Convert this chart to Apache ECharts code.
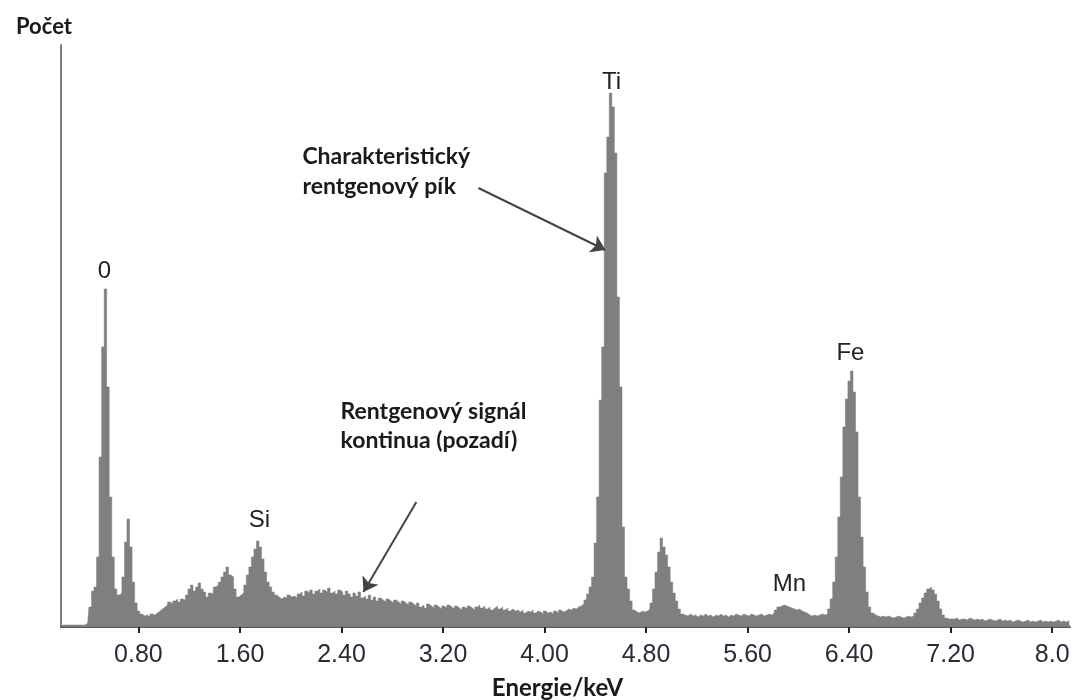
<!DOCTYPE html>
<html>
<head>
<meta charset="utf-8">
<script src="https://cdn.jsdelivr.net/npm/echarts@6.0.0/dist/echarts.min.js"></script>
<style>
  html, body { margin: 0; padding: 0; background: #fff; }
  #chart { width: 1075px; height: 700px; }
</style>
</head>
<body>
<div id="chart"></div>
<script>
// EDS spectrum, counts (arbitrary units), one bin every 0.02 keV
const energyStart = 0.20;
const energyStep = 0.02;
const counts = [
  2, 2, 2, 2, 2, 2, 2, 2, 2, 2,                  // 0.20
  4, 20, 36, 40, 70, 170, 280, 338, 240, 130,     // 0.40
  70, 38, 32, 34, 50, 85, 108, 80, 45, 24,        // 0.60
  16, 13, 11, 12, 10, 13, 12, 14, 16, 18,         // 0.80
  20, 22, 25, 23, 26, 28, 25, 28, 27, 32,         // 1.00
  38, 42, 36, 40, 44, 38, 35, 30, 34, 33,         // 1.20
  40, 42, 45, 50, 55, 60, 52, 50, 38, 30,         // 1.40
  32, 34, 42, 52, 60, 70, 78, 86, 80, 68,         // 1.60
  55, 45, 40, 35, 32, 30, 28, 30, 29, 32,         // 1.80
  30, 31, 29, 33, 35, 31, 36, 34, 37, 33,         // 2.00
  36, 38, 34, 37, 35, 39, 34, 36, 33, 37,         // 2.20
  35, 32, 36, 33, 30, 34, 31, 35, 29, 31,         // 2.40
  28, 32, 27, 30, 26, 29, 27, 25, 28, 26,         // 2.60
  24, 27, 25, 23, 26, 24, 22, 25, 23, 21,         // 2.80
  24, 20, 22, 19, 23, 21, 19, 22, 20, 18,         // 3.00
  21, 19, 22, 20, 18, 21, 19, 17, 20, 18,         // 3.20
  21, 19, 17, 20, 22, 19, 21, 18, 20, 17,         // 3.40
  19, 21, 18, 20, 17, 19, 16, 18, 16, 17,         // 3.60
  15, 17, 14, 16, 15, 17, 14, 16, 15, 13,         // 3.80
  16, 14, 15, 13, 16, 14, 17, 15, 16, 18,         // 4.00
  17, 19, 18, 20, 21, 23, 27, 33, 40, 50,         // 4.20
  84, 130, 227, 280, 454, 490, 534, 520, 474, 330, // 4.40
  240, 100, 50, 38, 26, 17, 15, 14, 16, 15,       // 4.60
  16, 18, 24, 38, 55, 75, 89, 80, 72, 60,         // 4.80
  45, 34, 26, 18, 13, 12, 11, 13, 11, 12,         // 5.00
  10, 12, 11, 13, 11, 12, 10, 12, 11, 13,         // 5.20
  11, 12, 10, 12, 11, 13, 12, 11, 13, 12,         // 5.40
  11, 13, 12, 11, 12, 13, 11, 12, 13, 12,         // 5.60
  14, 17, 20, 21, 22, 21, 20, 19, 18, 17,         // 5.80
  18, 16, 15, 14, 12, 11, 12, 11, 12, 13,         // 6.00
  12, 13, 18, 28, 45, 70, 110, 150, 200, 228,     // 6.20
  246, 256, 235, 195, 130, 90, 60, 35, 20, 14,    // 6.40
  12, 11, 10, 11, 10, 11, 10, 9, 10, 11,          // 6.60
  10, 9, 10, 11, 10, 11, 14, 18, 24, 29,          // 6.80
  34, 38, 40, 37, 33, 26, 18, 12, 9, 8,           // 7.00
  8, 8, 9, 7, 8, 8, 7, 9, 8, 7,                   // 7.20
  8, 7, 8, 6, 7, 8, 7, 6, 7, 8,                   // 7.40
  6, 7, 6, 7, 5, 6, 7, 6, 5, 6,                   // 7.60
  7, 5, 6, 5, 6, 7, 5, 6, 5, 6,                   // 7.80
  5, 6, 7, 5, 6, 5, 6, 5                          // 8.00
];

const tickValues = [0.8, 1.6, 2.4, 3.2, 4.0, 4.8, 5.6, 6.4, 7.2, 8.0];
const tickLabels = ['0.80', '1.60', '2.40', '3.20', '4.00', '4.80', '5.60', '6.40', '7.20', '8.0'];

// element labels: text, energy, counts where the label sits
const peakNames = ['0', 'Si', 'Ti', 'Mn', 'Fe'];
const peakEnergy = [0.533, 1.754, 4.527, 5.93, 6.41];
const peakLabelAt = [356, 107, 545, 43, 274];

const spectrum = counts.map((c, i) => [+(energyStart + i * energyStep).toFixed(2), c]);

const chart = echarts.init(document.getElementById('chart'));

const boldText = { fontFamily: 'Lato', fontWeight: 'bold', color: '#1a1a1a' };

const option = {
  animation: false,
  title: {
    text: 'Počet',
    left: 11,
    top: 11,
    textStyle: Object.assign({ fontSize: 22 }, boldText)
  },
  grid: { left: 61, right: 5, top: 45, bottom: 73, outerBoundsMode: 'none', containLabel: false },
  xAxis: {
    type: 'value',
    min: 0.19,
    max: 8.14,
    offset: 3,
    name: 'Energie/keV',
    nameLocation: 'middle',
    nameGap: 46,
    nameTextStyle: Object.assign({ fontSize: 24, padding: [0, 16, 0, 0] }, boldText),
    axisLine: { lineStyle: { color: '#555', width: 2 } },
    axisTick: { customValues: tickValues, length: 6, lineStyle: { color: '#222', width: 2 } },
    axisLabel: {
      customValues: tickValues,
      margin: 13,
      fontFamily: 'Liberation Sans, Arial, sans-serif',
      fontSize: 25,
      color: '#2b2b3a',
      formatter: function (v) {
        const i = tickValues.findIndex(t => Math.abs(t - v) < 1e-6);
        return i >= 0 ? tickLabels[i] : '';
      }
    },
    splitLine: { show: false }
  },
  yAxis: {
    type: 'value',
    min: 0,
    max: 582,
    axisLine: { show: true, lineStyle: { color: '#808080', width: 2 } },
    axisTick: { show: false },
    axisLabel: { show: false },
    splitLine: { show: false }
  },
  series: [{
    type: 'line',
    step: 'middle',
    data: spectrum,
    symbol: 'none',
    lineStyle: { color: '#7f7f7f', width: 0.5 },
    areaStyle: { color: '#7f7f7f', opacity: 1 },
    markPoint: {
      silent: true,
      symbol: 'circle',
      symbolSize: 1,
      itemStyle: { color: 'rgba(0,0,0,0)' },
      label: {
        show: true,
        position: 'inside',
        fontFamily: 'Liberation Sans, Arial, sans-serif',
        fontSize: 24,
        color: '#222',
        formatter: p => p.name
      },
      data: peakNames.map((n, i) => ({ name: n, coord: [peakEnergy[i], peakLabelAt[i]] })).concat([
        {
          name: 'Charakteristický\nrentgenový pík',
          coord: [2.092, 455],
          label: Object.assign({ align: 'left', fontSize: 23, lineHeight: 30 }, boldText)
        },
        {
          name: 'Rentgenový signál\nkontinua (pozadí)',
          coord: [2.392, 201],
          label: Object.assign({ align: 'left', fontSize: 23, lineHeight: 29 }, boldText)
        }
      ])
    },
    markLine: {
      silent: true,
      symbol: ['none', 'arrow'],
      symbolSize: 14,
      label: { show: false },
      lineStyle: { color: '#444', width: 2, type: 'solid' },
      data: [
        [{ coord: [3.479, 439] }, { coord: [4.479, 377] }],
        [{ coord: [2.99, 125] }, { coord: [2.573, 35] }]
      ]
    }
  }]
};

chart.setOption(option);
</script>
</body>
</html>
